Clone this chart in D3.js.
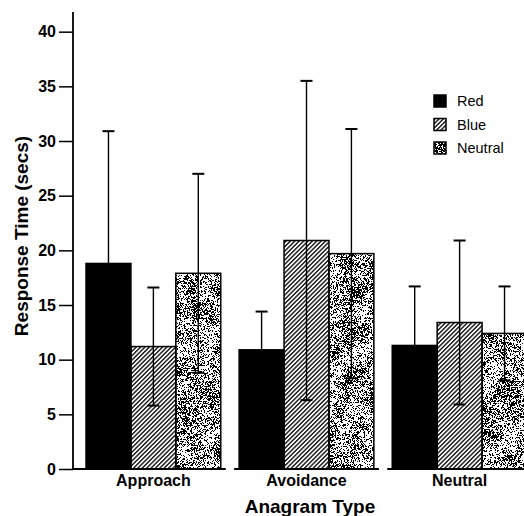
<!DOCTYPE html>
<html>
<head>
<meta charset="utf-8">
<script src="https://cdn.jsdelivr.net/npm/d3@7"></script>
<style>
  body { margin: 0; background: #fff; }
  svg { display: block; font-family: "Liberation Sans", Arial, sans-serif; }
</style>
</head>
<body>
<svg class="chart" width="524" height="516"></svg>
<script>
// data
var groups = ["Approach", "Avoidance", "Neutral"];
var conditions = ["Red", "Blue", "Neutral"];
var meanRed = [18.8, 10.9, 11.3];
var meanBlue = [11.2, 20.9, 13.4];
var meanNeutral = [17.9, 19.7, 12.4];
var errRed = [12.1, 3.5, 5.4];
var errBlue = [5.4, 14.6, 7.5];
var errNeutral = [9.1, 11.4, 4.3];
var yTicks = [0, 5, 10, 15, 20, 25, 30, 35, 40];

var means = [meanRed, meanBlue, meanNeutral];
var errs = [errRed, errBlue, errNeutral];

var svg = d3.select(".chart");
var axisX = 73, baseY = 469;

var yScale = d3.scaleLinear().domain([0, 41.8]).range([baseY, 12]);
var x0 = d3.scaleBand().domain(groups).range([73, 540])
    .paddingInner(0.12).paddingOuter(0.085);
var x1 = d3.scaleBand().domain(conditions).range([0, x0.bandwidth()]);

// fills
var defs = svg.append("defs");
var hatch = defs.append("pattern")
    .attr("id", "hatch")
    .attr("patternUnits", "userSpaceOnUse")
    .attr("width", 3.1).attr("height", 10)
    .attr("patternTransform", "rotate(45)");
hatch.append("rect").attr("width", 3.1).attr("height", 10).attr("fill", "#fff");
hatch.append("line").attr("x1", 0.7).attr("x2", 0.7).attr("y1", 0).attr("y2", 10)
    .attr("stroke", "#000").attr("stroke-width", 1.3);

// speckled grey: fine grain plus a little slow drift
var opaque = "1 0 0 0 0  1 0 0 0 0  1 0 0 0 0  0 0 0 0 1";
var stip = defs.append("filter").attr("id", "stip")
    .attr("x", 0).attr("y", 0).attr("width", 1).attr("height", 1)
    .attr("color-interpolation-filters", "sRGB");
stip.append("feTurbulence").attr("type", "fractalNoise")
    .attr("baseFrequency", 1.7).attr("numOctaves", 1).attr("seed", 4).attr("result", "t1");
stip.append("feColorMatrix").attr("in", "t1").attr("type", "matrix")
    .attr("values", opaque).attr("result", "n1");
stip.append("feTurbulence").attr("type", "fractalNoise")
    .attr("baseFrequency", 0.05).attr("numOctaves", 2).attr("seed", 9).attr("result", "t2");
stip.append("feColorMatrix").attr("in", "t2").attr("type", "matrix")
    .attr("values", opaque).attr("result", "n2");
stip.append("feComposite").attr("in", "n1").attr("in2", "n2").attr("operator", "arithmetic")
    .attr("k1", 0).attr("k2", 1).attr("k3", 0.25).attr("k4", -0.125).attr("result", "n");
stip.append("feColorMatrix").attr("in", "n").attr("type", "matrix")
    .attr("values", "0 0 0 0 0  0 0 0 0 0  0 0 0 0 0  -8 0 0 0 4.3").attr("result", "a");
stip.append("feComponentTransfer").attr("in", "a").attr("result", "d")
    .append("feFuncA").attr("type", "discrete").attr("tableValues", "0 1");
stip.append("feFlood").attr("flood-color", "#fff").attr("result", "w");
var mg = stip.append("feMerge");
mg.append("feMergeNode").attr("in", "w");
mg.append("feMergeNode").attr("in", "d");

function fillFor(j) {
    return j === 0 ? "#000" : (j === 1 ? "url(#hatch)" : "#fff");
}

// bars
var cells = [];
groups.forEach(function (g, i) {
    conditions.forEach(function (c, j) {
        cells.push({ g: g, c: c, j: j, v: means[j][i], e: errs[j][i] });
    });
});

var bars = svg.append("g");
bars.selectAll("rect.bar")
    .data(cells).enter()
    .append("rect")
    .attr("class", "bar")
    .attr("x", function (d) { return x0(d.g) + x1(d.c); })
    .attr("y", function (d) { return yScale(d.v); })
    .attr("width", x1.bandwidth())
    .attr("height", function (d) { return baseY - yScale(d.v); })
    .attr("fill", function (d) { return fillFor(d.j); })
    .attr("filter", function (d) { return d.j === 2 ? "url(#stip)" : null; });

bars.selectAll("rect.edge")
    .data(cells).enter()
    .append("rect")
    .attr("class", "edge")
    .attr("x", function (d) { return x0(d.g) + x1(d.c); })
    .attr("y", function (d) { return yScale(d.v); })
    .attr("width", x1.bandwidth())
    .attr("height", function (d) { return baseY - yScale(d.v); })
    .attr("fill", "none")
    .attr("stroke", "#000").attr("stroke-width", 1.5);

// error bars
var eb = svg.append("g").attr("stroke", "#000");
var cx = function (d) { return x0(d.g) + x1(d.c) + x1.bandwidth() / 2; };
eb.selectAll("line.stem").data(cells).enter().append("line")
    .attr("x1", cx).attr("x2", cx)
    .attr("y1", function (d) { return yScale(d.v + d.e); })
    .attr("y2", function (d) { return yScale(d.v - d.e); })
    .attr("stroke-width", 1.4);
[1, -1].forEach(function (s) {
    eb.selectAll("line.cap" + s).data(cells).enter().append("line")
        .attr("x1", function (d) { return cx(d) - 6; })
        .attr("x2", function (d) { return cx(d) + 6; })
        .attr("y1", function (d) { return yScale(d.v + s * d.e); })
        .attr("y2", function (d) { return yScale(d.v + s * d.e); })
        .attr("stroke-width", 2);
});

// y axis
var yAxis = d3.axisLeft(yScale).tickValues(yTicks).tickSize(14).tickPadding(3);
var ya = svg.append("g").attr("transform", "translate(" + axisX + ",0)").call(yAxis);
ya.select(".domain").remove();
ya.selectAll(".tick line").attr("stroke-width", 1.5);
ya.selectAll(".tick text").attr("font-size", 16).attr("font-weight", "bold")
    .attr("font-family", "Liberation Sans, Arial, sans-serif").attr("fill", "#000");
svg.append("line").attr("x1", axisX).attr("x2", axisX)
    .attr("y1", yScale.range()[1]).attr("y2", baseY)
    .attr("stroke", "#000").attr("stroke-width", 1.8);

// broken baseline, one piece per group
svg.append("g").selectAll("line").data(groups).enter().append("line")
    .attr("x1", function (d, i) { return i === 0 ? axisX : x0(d) - 5; })
    .attr("x2", function (d) { return x0(d) + x0.bandwidth() + 5; })
    .attr("y1", baseY).attr("y2", baseY)
    .attr("stroke", "#000").attr("stroke-width", 1.8);

// group labels
svg.append("g").selectAll("text").data(groups).enter().append("text")
    .attr("x", function (d) { return x0(d) + x0.bandwidth() / 2; })
    .attr("y", 486)
    .attr("text-anchor", "middle")
    .attr("font-size", 16).attr("font-weight", "bold")
    .text(function (d) { return d; });

svg.append("text")
    .attr("x", 310).attr("y", 513)
    .attr("text-anchor", "middle")
    .attr("font-size", 19).attr("font-weight", "bold")
    .text("Anagram Type");

svg.append("text")
    .attr("transform", "translate(28,236) rotate(-90)")
    .attr("text-anchor", "middle")
    .attr("font-size", 19).attr("font-weight", "bold")
    .text("Response Time (secs)");

// legend
var lg = svg.append("g").attr("transform", "translate(434,95)");
var li = lg.selectAll("g").data(conditions).enter().append("g")
    .attr("transform", function (d, i) { return "translate(0," + (i * 23.5) + ")"; });
li.append("rect").attr("width", 12).attr("height", 12)
    .attr("fill", function (d, i) { return fillFor(i); })
    .attr("filter", function (d, i) { return i === 2 ? "url(#stip)" : null; });
li.append("rect").attr("width", 12).attr("height", 12)
    .attr("fill", "none").attr("stroke", "#000").attr("stroke-width", 1.5);
li.append("text").attr("x", 23).attr("y", 11)
    .attr("font-size", 14.5)
    .text(function (d) { return d; });
</script>
</body>
</html>
